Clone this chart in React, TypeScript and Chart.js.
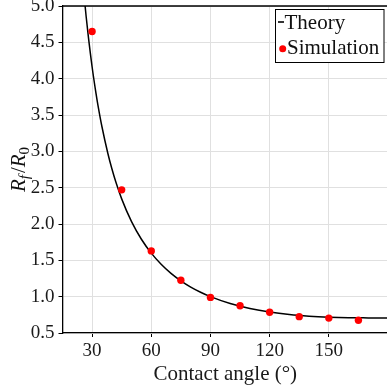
import { useEffect, useRef } from 'react';
import { Chart, registerables } from 'chart.js';

Chart.register(...registerables);

// ---- data ----
const xTicks = [30, 60, 90, 120, 150];
const yTicks = [0.5, 1.0, 1.5, 2.0, 2.5, 3.0, 3.5, 4.0, 4.5, 5.0];

const theoryAngles = [25, 26, 27, 28, 30, 32, 33, 35, 38, 40, 42, 45, 50, 55, 60, 65, 70, 75, 80, 85, 90, 100, 110, 120, 130, 140, 150, 160, 170, 180];
const theoryRatio = [5.428, 5.126, 4.852, 4.602, 4.164, 3.794, 3.63, 3.338, 2.97, 2.763, 2.581, 2.346, 2.032, 1.79, 1.599, 1.446, 1.321, 1.218, 1.132, 1.061, 1.0, 0.905, 0.837, 0.788, 0.754, 0.732, 0.718, 0.71, 0.708, 0.707];

const simAngles = [30, 45, 60, 75, 90, 105, 120, 135, 150, 165];
const simRatio = [4.65, 2.47, 1.63, 1.225, 0.99, 0.875, 0.785, 0.725, 0.705, 0.675];

const FONT = "'Liberation Serif', 'Times New Roman', serif";

const decor = {
  id: 'decor',
  afterDraw(chart: any) {
    const { ctx, chartArea: a } = chart;
    ctx.save();
    // top frame line
    ctx.strokeStyle = '#000';
    ctx.lineWidth = 1.3;
    ctx.beginPath();
    ctx.moveTo(a.left, a.top);
    ctx.lineTo(a.right, a.top);
    ctx.stroke();

    // y axis title R_f / R_0
    const big = `italic 21px ${FONT}`;
    const small = `italic 15px ${FONT}`;
    const smallUp = `15px ${FONT}`;
    const parts = [
      { t: 'R', f: big, dy: 0 },
      { t: 'f', f: small, dy: 4 },
      { t: '/', f: `21px ${FONT}`, dy: 0 },
      { t: 'R', f: big, dy: 0 },
      { t: '0', f: smallUp, dy: 4 },
    ];
    let total = 0;
    const widths: number[] = [];
    for (const p of parts) {
      ctx.font = p.f;
      const w = ctx.measureText(p.t).width + (p.t === 'f' ? 2 : 0);
      widths.push(w);
      total += w;
    }
    ctx.translate(25, (a.top + a.bottom) / 2);
    ctx.rotate(-Math.PI / 2);
    ctx.fillStyle = '#111';
    ctx.textBaseline = 'alphabetic';
    ctx.textAlign = 'left';
    let x = -total / 2;
    parts.forEach((p, i) => {
      ctx.font = p.f;
      ctx.fillText(p.t, x, p.dy);
      x += widths[i];
    });
    ctx.restore();

    // legend box
    ctx.save();
    const bx = 275.5, by = 9.5, bw = 108.5, bh = 53;
    ctx.fillStyle = '#fff';
    ctx.fillRect(bx, by, bw, bh);
    ctx.strokeStyle = '#000';
    ctx.lineWidth = 1;
    ctx.strokeRect(bx, by, bw, bh);
    const ds = chart.data.datasets;
    const theory = ds.find((d: any) => d.label === 'Theory');
    const sim = ds.find((d: any) => d.label === 'Simulation');
    ctx.font = `21px ${FONT}`;
    ctx.fillStyle = '#111';
    ctx.textBaseline = 'alphabetic';
    // Theory
    ctx.strokeStyle = theory.borderColor;
    ctx.lineWidth = 1.6;
    ctx.beginPath();
    ctx.moveTo(278, 22);
    ctx.lineTo(284, 22);
    ctx.stroke();
    ctx.fillText(theory.label, 284.5, 29);
    // Simulation
    ctx.fillStyle = sim.backgroundColor;
    ctx.beginPath();
    ctx.arc(282.7, 48.7, 3.5, 0, Math.PI * 2);
    ctx.fill();
    ctx.fillStyle = '#111';
    ctx.fillText(sim.label, 287, 53.5);
    ctx.restore();
  },
};

export default function App() {
  const ref = useRef<HTMLCanvasElement>(null);
  useEffect(() => {
    document.body.style.margin = '0';
    const chart = new Chart(ref.current!, {
      type: 'scatter',
      data: {
        datasets: [
          {
            label: 'Simulation',
            data: simAngles.map((x, i) => ({ x, y: simRatio[i] })),
            backgroundColor: '#ff0000',
            borderColor: '#ff0000',
            pointRadius: 3.7,
            pointBorderWidth: 0,
            showLine: false,
            order: 0,
          },
          {
            label: 'Theory',
            data: theoryAngles.map((x, i) => ({ x, y: theoryRatio[i] })),
            borderColor: '#000',
            borderWidth: 1.5,
            pointRadius: 0,
            showLine: true,
            cubicInterpolationMode: 'monotone',
            order: 1,
          } as any,
        ],
      },
      options: {
        responsive: false,
        animation: false,
        devicePixelRatio: 1,
        layout: { padding: { top: 6, right: 2, left: 0, bottom: 0 } },
        plugins: { legend: { display: false }, tooltip: { enabled: false } },
        scales: {
          x: {
            type: 'linear',
            min: 15,
            max: 180,
            afterBuildTicks: (s: any) => {
              s.ticks = xTicks.map((v) => ({ value: v }));
            },
            afterFit: (s: any) => {
              s.height = 58;
              s.paddingLeft = 0;
              s.paddingRight = 0;
            },
            ticks: {
              font: { family: FONT, size: 19 },
              color: '#1a1a1a',
              padding: 3,
              maxRotation: 0,
              autoSkip: false,
            },
            grid: { color: '#e0e0e0', lineWidth: 1, tickLength: 4, tickColor: '#000', drawTicks: true },
            border: { color: '#000', width: 1.3 },
            title: {
              display: true,
              text: 'Contact angle (°)',
              font: { family: FONT, size: 21 },
              color: '#1a1a1a',
              padding: { top: 0, bottom: 4 },
            },
          },
          y: {
            type: 'linear',
            min: 0.5,
            max: 5,
            afterBuildTicks: (s: any) => {
              s.ticks = yTicks.map((v) => ({ value: v }));
            },
            afterFit: (s: any) => {
              s.width = 62.5;
              s.paddingTop = 0;
              s.paddingBottom = 0;
            },
            ticks: {
              font: { family: FONT, size: 19 },
              color: '#1a1a1a',
              padding: 4,
              autoSkip: false,
              callback: (v: any) => Number(v).toFixed(1),
            },
            grid: { color: '#e0e0e0', lineWidth: 1, tickLength: 4, tickColor: '#000', drawTicks: true },
            border: { color: '#000', width: 1.3 },
          },
        },
      },
      plugins: [decor],
    });
    return () => chart.destroy();
  }, []);
  return (
    <div
      style={{
        position: 'fixed',
        left: 0,
        top: 0,
        width: 387,
        height: 391,
        overflow: 'hidden',
        background: '#fff',
      }}
    >
      <canvas ref={ref} width={392} height={391} style={{ display: 'block' }} />
    </div>
  );
}
